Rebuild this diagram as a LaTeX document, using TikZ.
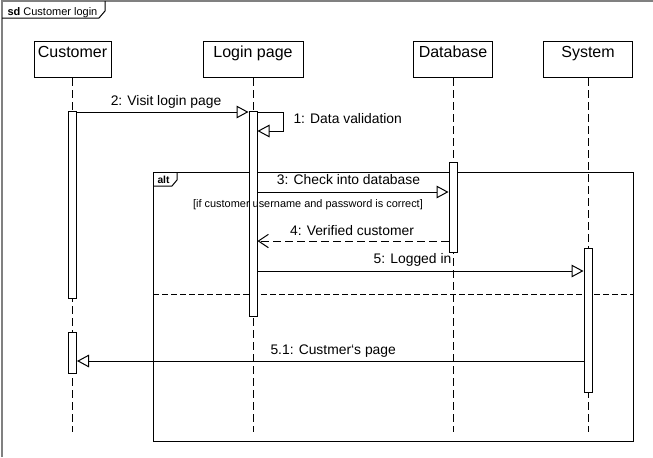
\documentclass[tikz,border=0pt]{standalone}
\usepackage{fontspec}
\setmainfont{Liberation Sans}
\usetikzlibrary{arrows.meta}
\begin{document}
\begin{tikzpicture}[x=0.75pt,y=-0.75pt, line width=0.75pt,
  head/.style={draw, inner sep=0pt, text height=11.8pt, text depth=15.2pt, font=\fontsize{12}{14}\selectfont, anchor=north},
  act/.style={draw, fill=white, inner sep=0pt, minimum width=6pt, anchor=north},
  life/.style={dash pattern=on 6pt off 3pt},
  msg/.style={-{Triangle[open,length=9pt,width=9.5pt,fill=white]}},
  ret/.style={dash pattern=on 6pt off 3pt, -{Straight Barb[length=7.5pt,width=10pt]}},
  mlabel/.style={font=\fontsize{10.4}{12}\selectfont, inner sep=0pt, anchor=base},
  frameline/.style={draw=black!50, line width=1.1pt}
]
\useasboundingbox (0,0) rectangle (653,457);
% outer frame
\draw[frameline] (2,457) -- (2,1) -- (653,1);
\draw (2,18) -- (99,18) -- (105,11) -- (105,1);
\node[anchor=base west, inner sep=0pt, font=\fontsize{8.25}{10}\selectfont] (sdT) at (7,15) {\textbf{sd} Customer login};

% heads
\node[head, minimum width=57.75pt] (cust) at (72.5,41) {Customer};
\node[head, minimum width=75pt] (login) at (253,41) {Login page};
\node[head, minimum width=59.25pt] (db) at (453,41) {Database};
\node[head, minimum width=66.75pt] (sys) at (588,41) {System};

% lifeline ends
\coordinate (custE) at (72.5,432);
\coordinate (loginE) at (253,432);
\coordinate (dbE) at (453,432);
\coordinate (sysE) at (588,432);
\draw[life] (cust.south) -- (custE);
\draw[life] (login.south) -- (loginE);
\draw[life] (db.south) -- (dbE);
\draw[life] (sys.south) -- (sysE);

% alt fragment
\draw (153,172) rectangle (633,441);
\draw[dash pattern=on 4.5pt off 2.25pt] (153,294) -- (633,294);
\draw (153,186) -- (172,186) -- (177,180) -- (177,172);
\node[font=\bfseries\fontsize{7.7}{9}\selectfont, inner sep=0pt, anchor=base west] (altT) at (157,183) {alt};

% activations
\node[act, minimum height=140.25pt] (ca1) at (72.5,111) {};
\node[act, minimum height=30.75pt] (ca2) at (72.5,332) {};
\node[act, minimum height=153.75pt] (la) at (253,111) {};
\node[act, minimum height=67.5pt] (da) at (453,162) {};
\node[act, minimum height=108pt] (sa) at (588,248) {};

% guard (drawn over the activation)
\node[font=\fontsize{8.2}{10}\selectfont, inner sep=0pt, anchor=base] (guard) at (308,207) {[if customer username and password is correct]};

% message levels
\coordinate (y2) at (0,112);
\coordinate (y1b) at (0,131);
\coordinate (y3) at (0,192);
\coordinate (y4) at (0,241);
\coordinate (y5) at (0,271);
\coordinate (y51) at (0,361);

% messages
\draw[msg] (ca1.east |- y2) -- (la.west |- y2);
\node[mlabel] (l2) at (166,105) {2: Visit login page};
\draw[msg] (la.east |- y2) -- ++(26,0) |- (la.east |- y1b);
\node[mlabel, anchor=base west] (l1) at (293,123) {1: Data validation};
\draw[msg] (la.east |- y3) -- (da.west |- y3);
\node[mlabel] (l3) at (348.5,184) {3: Check into database};
\draw[ret] (da.west |- y4) -- (la.east |- y4);
\node[mlabel] (l4) at (352,235) {4: Verified customer};
\draw[msg] (la.east |- y5) -- (sa.west |- y5);
\node[mlabel] (l5) at (412.5,263) {5: Logged in};
\draw[msg] (sa.west |- y51) -- (ca2.east |- y51);
\node[mlabel, anchor=base west] (l51) at (270,354) {5.1: Custmer\symbol{96}s page};
\end{tikzpicture}
\end{document}
